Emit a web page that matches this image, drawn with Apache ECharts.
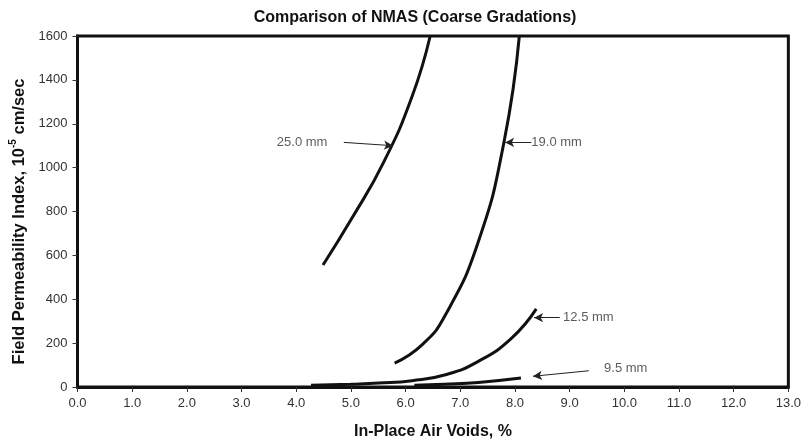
<!DOCTYPE html>
<html>
<head>
<meta charset="utf-8">
<script src="https://cdn.jsdelivr.net/npm/echarts@6/dist/echarts.min.js"></script>
<style>
  html, body { margin: 0; padding: 0; background: #fff; }
  #container { width: 804px; height: 445px; }
</style>
</head>
<body>
<div id="container"></div>
<script>
// curves: [air voids %, permeability]
const nmas25X = [4.49, 5.02, 5.6, 6.12, 6.45];
const nmas25Y = [556, 770, 1025, 1325, 1600];
const nmas19X = [5.8, 6.3, 6.73, 7.33, 7.8, 8.08];
const nmas19Y = [109, 192, 329, 662, 1117, 1600];
const nmas125X = [4.27, 5.0, 5.51, 6.12, 6.73, 7.33, 7.94, 8.39];
const nmas125Y = [8, 13, 18, 29, 56, 117, 223, 356];
const nmas95X = [6.16, 6.7, 7.33, 8.11];
const nmas95Y = [8, 13, 21, 41];

// callouts: label, label position, arrow start, arrow tip
const labels = ["25.0 mm", "19.0 mm", "12.5 mm", "9.5 mm"];
const labelPos = [[4.57, 1115], [8.3, 1115], [8.88, 316], [9.63, 83]];
const labelAlign = ["right", "left", "left", "left"];
const arrowFrom = [[4.87, 1115], [8.3, 1115], [8.82, 316], [9.35, 74]];
const arrowTo = [[5.77, 1100], [7.82, 1115], [8.35, 316], [8.33, 49]];

const dom = document.getElementById("container");
const myChart = echarts.init(dom, null, { renderer: "canvas" });

function zipXY(xs, ys) {
  return xs.map((x, i) => [x, ys[i]]);
}

function curve(name, xs, ys) {
  return {
    name: name,
    type: "line",
    smooth: 0.5,
    showSymbol: false,
    silent: true,
    lineStyle: { color: "#111", width: 3 },
    data: zipXY(xs, ys),
  };
}

const series = [
  curve("25.0 mm", nmas25X, nmas25Y),
  curve("19.0 mm", nmas19X, nmas19Y),
  curve("12.5 mm", nmas125X, nmas125Y),
  curve("9.5 mm", nmas95X, nmas95Y),
];

// annotations drawn through the chart's own axes
series.push({
  type: "scatter",
  silent: true,
  symbolSize: 0,
  data: labels.map((t, i) => ({
    value: labelPos[i],
    label: {
      show: true,
      formatter: t,
      position: labelAlign[i] === "right" ? "left" : "right",
      distance: 0,
      color: "#333",
      fontSize: 13,
      fontFamily: "Liberation Sans, Arial, sans-serif",
    },
  })),
  markLine: {
    silent: true,
    symbol: ["none", "arrow"],
    symbolSize: [7, 9],
    label: { show: false },
    lineStyle: { color: "#222", width: 1, type: "solid" },
    data: arrowFrom.map((p, i) => [{ coord: p }, { coord: arrowTo[i] }]),
  },
});

const option = {
  animation: false,
  backgroundColor: "#fff",
  textStyle: { fontFamily: "Liberation Sans, Arial, sans-serif" },
  title: {
    text: "Comparison of NMAS (Coarse Gradations)",
    left: 410,
    top: 5,
    textAlign: "center",
    textStyle: { fontSize: 16, fontWeight: "bold", color: "#111" },
  },
  grid: {
    left: 77.5,
    right: 12,
    top: 36,
    bottom: 56,
    show: true,
    borderColor: "#111",
    borderWidth: 3,
    containLabel: false,
  },
  xAxis: {
    type: "value",
    min: 0,
    max: 13,
    interval: 1,
    name: "In-Place Air Voids, %",
    nameLocation: "middle",
    nameGap: 37,
    nameTextStyle: { fontSize: 16, fontWeight: "bold", color: "#111" },
    axisLine: { show: true, lineStyle: { color: "#111", width: 3 } },
    axisTick: { show: true, length: 5, lineStyle: { color: "#333", width: 1 } },
    axisLabel: {
      color: "#333",
      fontSize: 13,
      margin: 10,
      formatter: (v) => v.toFixed(1),
    },
    splitLine: { show: false },
  },
  yAxis: {
    type: "value",
    min: 0,
    max: 1600,
    interval: 200,
    name: "{t|Field Permeability Index, 10}{s|-5}{t| cm/sec}",
    nameLocation: "middle",
    nameGap: 47,
    nameTextStyle: {
      padding: [0, 20, 0, 0],
      rich: {
        t: { fontSize: 16.5, fontWeight: "bold", color: "#111", lineHeight: 19, verticalAlign: "bottom" },
        s: { fontSize: 10, fontWeight: "bold", color: "#111", lineHeight: 19, verticalAlign: "top" },
      },
    },
    axisLine: { show: true, lineStyle: { color: "#111", width: 3 } },
    axisTick: { show: true, length: 5, lineStyle: { color: "#333", width: 1 } },
    axisLabel: { color: "#333", fontSize: 13, margin: 10, formatter: (v) => String(v) },
    splitLine: { show: false },
  },
  series: series,
};

myChart.setOption(option);
window.addEventListener("resize", myChart.resize);
</script>
</body>
</html>
